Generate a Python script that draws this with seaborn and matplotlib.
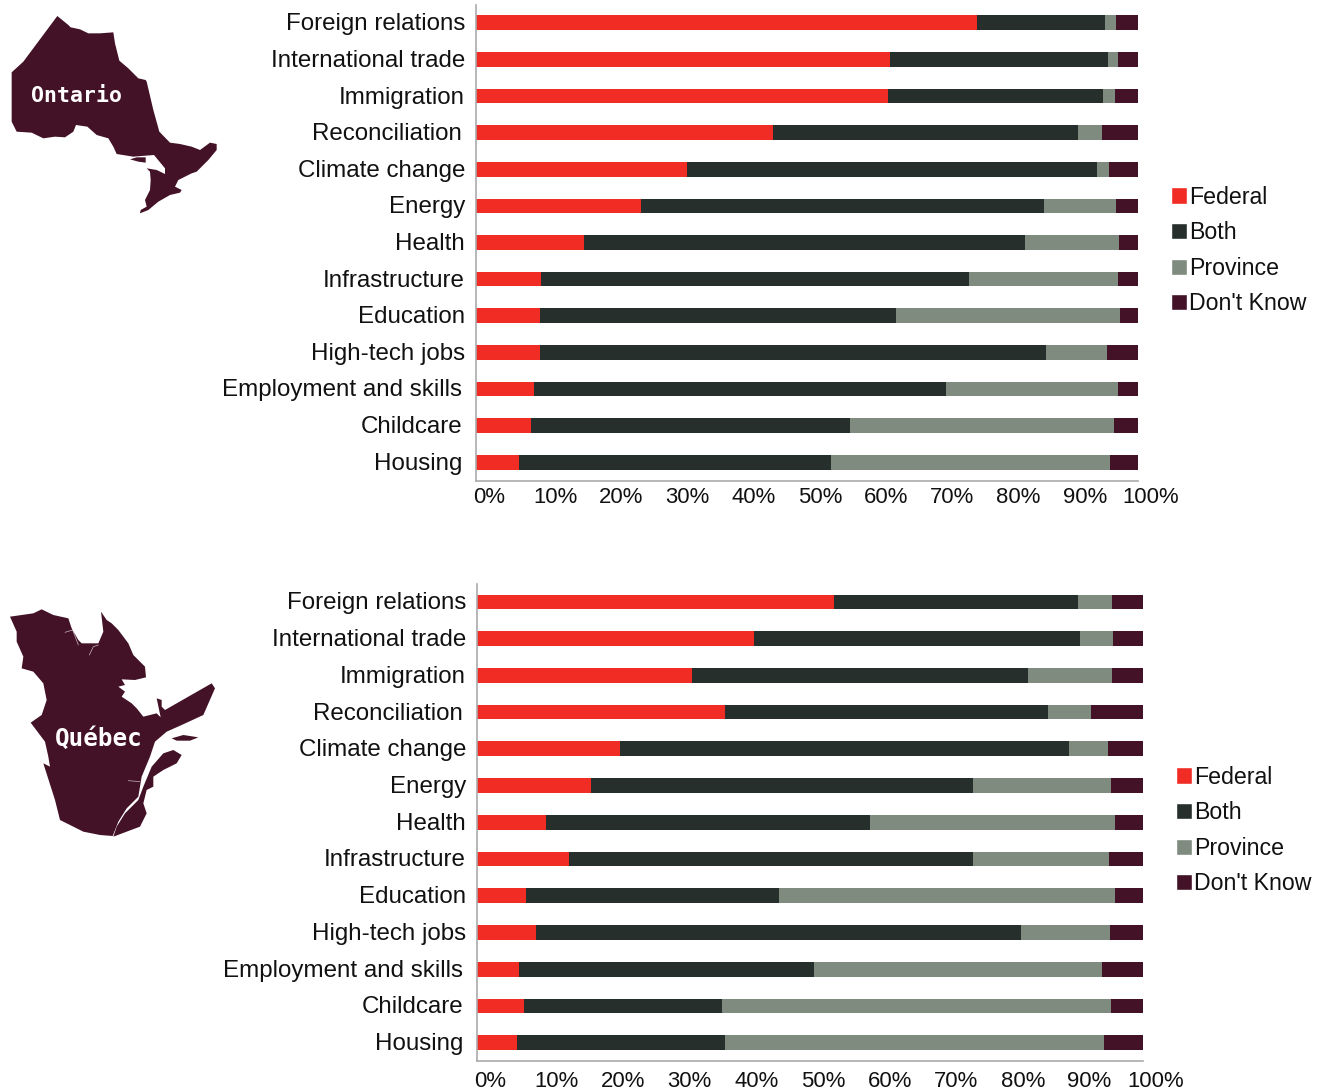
import numpy as np
import pandas as pd
import seaborn as sns
import matplotlib.pyplot as plt
from matplotlib.patches import Polygon
from matplotlib.transforms import ScaledTranslation

W, H = 1325, 1090

topics = ['Foreign relations', 'International trade', 'Immigration', 'Reconciliation',
          'Climate change', 'Energy', 'Health', 'Infrastructure', 'Education',
          'High-tech jobs', 'Employment and skills', 'Childcare', 'Housing']
answers = ['Federal', 'Both', 'Province', "Don't Know"]
tick_labels = ['0%', '10%', '20%', '30%', '40%', '50%', '60%', '70%', '80%', '90%', '100%']

# ontario shares
on_federal = [75.7, 62.5, 62.2, 44.9, 31.9, 24.9, 16.3, 9.8, 9.7, 9.7, 8.8, 8.3, 6.5]
on_both = [19.3, 33.0, 32.5, 46.0, 61.9, 60.9, 66.6, 64.7, 53.7, 76.4, 62.2, 48.2, 47.1]
on_province = [1.7, 1.5, 1.8, 3.7, 1.8, 10.9, 14.2, 22.5, 33.9, 9.2, 26.0, 39.9, 42.2]
on_dontknow = [3.3, 3.0, 3.5, 5.4, 4.4, 3.3, 2.9, 3.0, 2.7, 4.7, 3.0, 3.6, 4.2]

# quebec shares
qc_federal = [53.6, 41.6, 32.3, 37.2, 21.5, 17.1, 10.4, 13.8, 7.4, 8.9, 6.3, 7.1, 6.0]
qc_both = [36.6, 48.9, 50.4, 48.5, 67.4, 57.4, 48.6, 60.7, 37.9, 72.8, 44.3, 29.7, 31.2]
qc_province = [5.1, 5.0, 12.6, 6.5, 5.8, 20.7, 36.8, 20.4, 50.5, 13.3, 43.2, 58.4, 56.9]
qc_dontknow = [4.7, 4.5, 4.7, 7.8, 5.3, 4.8, 4.2, 5.1, 4.2, 5.0, 6.2, 4.8, 5.9]

colors = ['#F02C25', '#262F2B', '#7F8B7E', '#431226']
map_color = '#431226'

# map silhouettes, traced at 3x from the top-left of each map
ontario_shape = [(172, 48), (205, 75), (212, 82), (240, 88), (265, 100), (300, 100), (340, 97), (345, 130),
                 (358, 182), (385, 205), (415, 235), (437, 240), (440, 245), (460, 330), (478, 395), (510, 428),
                 (540, 432), (575, 440), (600, 450), (630, 428), (650, 432), (650, 450), (625, 480), (590, 515),
                 (575, 520), (535, 540), (525, 560), (545, 570), (540, 578), (510, 585), (475, 605), (445, 630),
                 (420, 640), (422, 630), (440, 620), (435, 600), (450, 570), (452, 540), (450, 515), (440, 505),
                 (470, 510), (495, 522), (495, 505), (462, 465), (400, 470), (350, 462), (340, 440), (325, 415),
                 (290, 405), (262, 380), (228, 375), (220, 395), (195, 412), (165, 410), (130, 415), (95, 398),
                 (50, 395), (35, 365), (35, 217), (70, 185)]
manitoulin = [(390, 478), (410, 472), (437, 472), (437, 488), (415, 485)]

quebec_shape = [(30, 50), (100, 40), (125, 28), (160, 45), (205, 55), (215, 85), (235, 120), (245, 130), (270, 130),
                (295, 130), (310, 95), (303, 35), (320, 60), (335, 70), (355, 90), (385, 130), (400, 165), (435, 200),
                (438, 232), (405, 240), (365, 238), (375, 255), (355, 260), (375, 275), (365, 290), (395, 310),
                (410, 325), (430, 350), (470, 340), (482, 352), (470, 295), (485, 300), (485, 320), (495, 330),
                (635, 250), (645, 265), (610, 345), (545, 375), (500, 395), (465, 425), (450, 470), (425, 530),
                (415, 590), (380, 625), (355, 665), (338, 708), (300, 705), (250, 695), (180, 660), (165, 600),
                (130, 490), (150, 500), (145, 470), (135, 425), (92, 368), (125, 345), (140, 300), (130, 250),
                (100, 215), (65, 205), (70, 170), (50, 125), (50, 95)]
gaspe = [(340, 710), (420, 680), (440, 640), (430, 610), (440, 570), (460, 560), (460, 530), (490, 510), (530, 490),
         (545, 465), (520, 450), (490, 460), (455, 500), (430, 560), (415, 600), (375, 640), (350, 680)]
anticosti = [(515, 415), (550, 405), (595, 412), (570, 422), (530, 422)]
# thin rivers cut into quebec
river_a = [(195, 97), (218, 90), (235, 135)]
river_b = [(268, 165), (280, 140), (295, 135)]
river_c = [(385, 542), (420, 545)]

sns.set_theme(style='white')
plt.rcParams['font.family'] = ['Liberation Sans', 'DejaVu Sans']

fig = plt.figure(figsize=(W / 100, H / 100), dpi=100)

# pixel layer for the maps
bg = fig.add_axes([0, 0, 1, 1], zorder=0)
bg.set_xlim(0, W)
bg.set_ylim(H, 0)
bg.axis('off')


def draw_map(shapes, dy):
    for s in shapes:
        pts = np.array(s) / 3 + [0, dy]
        bg.add_patch(Polygon(pts, closed=True, fc=map_color, ec='none'))


def draw_rivers(lines, dy):
    for l in lines:
        pts = np.array(l) / 3 + [0, dy]
        bg.plot(pts[:, 0], pts[:, 1], color='white', lw=0.5, alpha=0.7)


def draw_panel(parts, left, right, top, bottom, pad, legend_y):
    ax = fig.add_axes([left / W, 1 - bottom / H, (right - left) / W, (bottom - top) / H], zorder=1)
    ax.patch.set_alpha(0)
    cum = np.cumsum(np.array(parts), axis=0)
    # longest first, shorter ones go on top
    for i in range(3, -1, -1):
        df = pd.DataFrame({'topic': topics, 'share': cum[i]})
        sns.barplot(data=df, y='topic', x='share', color=colors[i], saturation=1, width=0.4,
                    linewidth=0, edgecolor='none', ax=ax)
    ax.set_xlim(0, 100)
    ax.set_ylim(12.5, -0.5)
    ax.set_xlabel('')
    ax.set_ylabel('')
    ax.set_xticks(range(0, 101, 10))
    ax.set_xticklabels(tick_labels)
    ax.tick_params(axis='x', length=0, pad=pad, labelsize=15.9, labelcolor='#111111')
    ax.tick_params(axis='y', length=0, pad=8, labelsize=17.4, labelcolor='#111111')
    for t in ax.get_xticklabels():
        t.set_transform(t.get_transform() + ScaledTranslation(13 / 100, 0, fig.dpi_scale_trans))
    # these four sit a bit further left in the original
    for t in ax.get_yticklabels():
        dx = -3 if t.get_text() in ['Reconciliation', 'Employment and skills', 'Childcare', 'Housing'] else 0
        t.set_transform(t.get_transform() + ScaledTranslation(dx / 100, 1 / 100, fig.dpi_scale_trans))
    sns.despine(ax=ax)
    for side in ['left', 'bottom']:
        ax.spines[side].set_color('#aaaaaa')
        ax.spines[side].set_linewidth(1.2)
    handles = [plt.Rectangle((0, 0), 1, 1, fc=c) for c in colors]
    fig.legend(handles, answers, loc='center left', frameon=False, fontsize=16.7,
               bbox_to_anchor=((right + 33) / W, 1 - legend_y / H), borderpad=0, borderaxespad=0,
               handlelength=0.7, handleheight=0.7, handletextpad=0.08, labelspacing=0.54,
               labelcolor='#111111')


draw_panel([on_federal, on_both, on_province, on_dontknow], 476, 1138, 4.5, 480.5, 5, 250.5)
draw_panel([qc_federal, qc_both, qc_province, qc_dontknow], 477, 1143, 583.5, 1061, 7, 830.5)

draw_map([ontario_shape, manitoulin], 0)
draw_map([quebec_shape, gaspe, anticosti], 600)
draw_rivers([river_a, river_b, river_c], 600)
bg.text(77, 96, 'Ontario', color='white', ha='center', va='center', family='DejaVu Sans Mono',
        weight='bold', fontsize=15.5)
bg.text(98.5, 739, 'Québec', color='white', ha='center', va='center', family='DejaVu Sans Mono',
        weight='bold', fontsize=17.5)

fig.savefig('out.png', dpi=100)
